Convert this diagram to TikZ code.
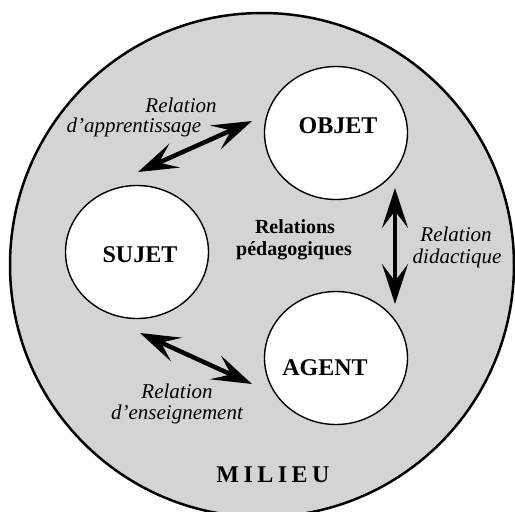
\documentclass[tikz,border=0pt]{standalone}
\usepackage{fontspec}
\setmainfont{Liberation Serif}
\usetikzlibrary{arrows.meta,shapes.geometric}
\definecolor{milieu}{RGB}{212,212,212}
\begin{document}
\begin{tikzpicture}[x=1pt,y=-1pt,
  inner/.style={ellipse, draw=black, line width=1.4pt, fill=white, minimum width=143pt, minimum height=133pt, inner sep=0pt},
  lbl/.style={anchor=base, font=\fontsize{24}{28}\selectfont\bfseries},
  rel/.style={anchor=base, font=\fontsize{21}{24}\selectfont\itshape},
  ped/.style={anchor=base, font=\fontsize{20}{24}\selectfont\bfseries},
  dbl/.style={line width=4.5pt, {Stealth[length=40pt,width=26pt,inset=17pt]}-{Stealth[length=40pt,width=26pt,inset=17pt]}}]
\useasboundingbox (0,0) rectangle (515,512);
\fill[white] (0,0) rectangle (515,512);
\begin{scope}
\clip (0,0) rectangle (515,512);
\node[circle, draw=black, line width=2.5pt, fill=milieu, minimum size=504pt, inner sep=0pt] (milieu) at (262,265) {};
\end{scope}
\node[inner] (objet) at (336,133) {};
\node[inner] (sujet) at (137,252) {};
\node[inner] (agent) at (336,358) {};
\node[lbl] (objetlbl) at (338,133) {OBJET};
\node[lbl] (sujetlbl) at (140,262) {SUJET};
\node[lbl] (agentlbl) at (325,375) {AGENT};
\coordinate (a1) at (138,172);
\coordinate (a2) at (252,121);
\coordinate (e1) at (140,333);
\coordinate (e2) at (252,384);
\coordinate (d1) at (395,188);
\coordinate (d2) at (395,304);
\draw[dbl] (a1) -- (a2);
\draw[dbl] (e1) -- (e2);
\draw[dbl] (d1) -- (d2);
\node[rel] (ra1) at (181,112) {Relation};
\node[rel] (ra2) at (134,132) {d’apprentissage};
\node[rel] (re1) at (177,398) {Relation};
\node[rel] (re2) at (177,419) {d’enseignement};
\node[rel] (rd1) at (456,241) {Relation};
\node[rel] (rd2) at (457,263) {didactique};
\node[ped] (rp1) at (295,233) {Relations};
\node[ped] (rp2) at (294,255) {pédagogiques};
\node[lbl] (milieulbl) at (273,482) {M\hspace{4.5pt}I\hspace{4.5pt}L\hspace{4.5pt}I\hspace{4.5pt}E\hspace{4.5pt}U};
\end{tikzpicture}
\end{document}
